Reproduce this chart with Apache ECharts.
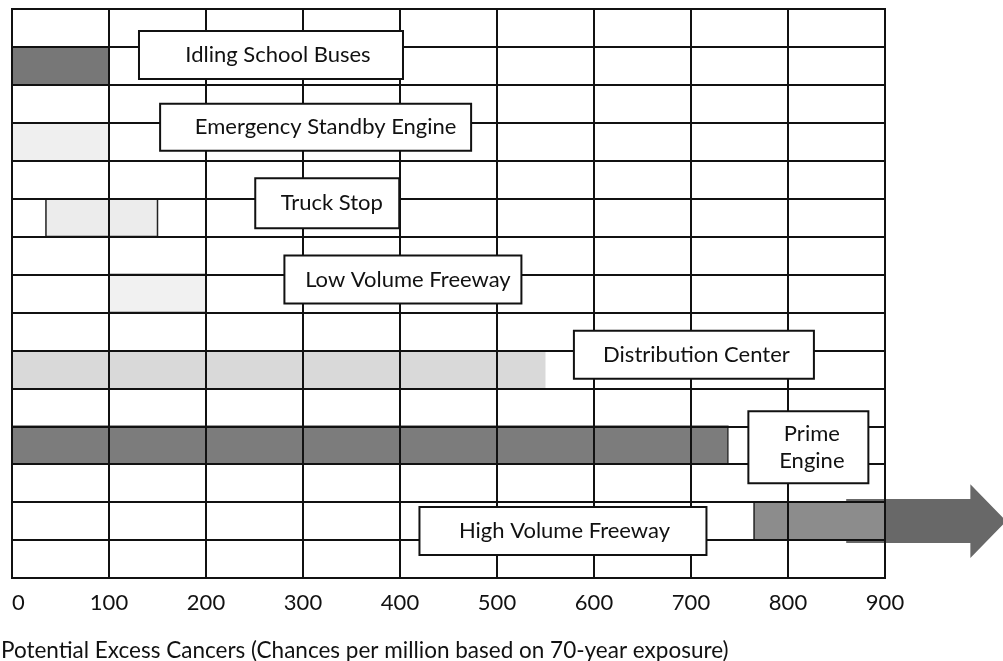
<!DOCTYPE html>
<html>
<head>
<meta charset="utf-8">
<script src="https://cdn.jsdelivr.net/npm/echarts@6/dist/echarts.min.js"></script>
<style>
  html, body { margin: 0; padding: 0; background: #fff; }
  #chart { width: 1003px; height: 661px; }
</style>
</head>
<body>
<div id="chart"></div>
<script>
// sources, each drawn on its own row with an empty row between them
const sources = ['Idling School Buses', 'Emergency Standby Engine', 'Truck Stop', 'Low Volume Freeway',
                 'Distribution Center', 'Prime Engine', 'High Volume Freeway'];
// risk range (chances per million)
const riskFrom = [0, 0, 35, 100, 0, 0, 765];
const riskTo = [100, 100, 150, 200, 550, 738, 900];
// high volume freeway keeps going past the axis end: shaft start, head start, tip
const arrowRange = [860, 988, 1025];
const axisTitle = 'Potential Excess Cancers (Chances per million based on 70-year exposure)';

// styles
const barFill = ['#777777', '#efefef', '#ececec', '#f1f1f1', '#d9d9d9', '#7c7c7c', '#8c8c8c'];
const barEdge = ['#222', '#222', '#222', '#222', null, '#333', '#222'];
// label boxes: centre (axis units), vertical shift, box size, text nudge to the right
const boxAt = [267, 313, 325, 403, 703, 821, 568];
const boxDy = [-11, -14.5, -14.5, -14, -14.5, 2, 10];
const boxW = [262, 309, 142, 235, 238, 118, 285];
const boxH = [46, 45, 48, 46, 46, 70, 46];
const boxNudge = [14, 20, 9, 10, 5, 7, 3];

const FONT = 'Lato';

// rows: gap, source, gap, source ... gap
const rows = [];
sources.forEach((s, i) => { rows.push('gap' + i); rows.push(s); });
rows.push('gapEnd');
const rowOf = i => 2 * i + 1;

const chart = echarts.init(document.getElementById('chart'));

const barData = sources.map((s, i) => [riskFrom[i], riskTo[i], rowOf(i)]);
const labelData = sources.map((s, i) => ({
  name: s === 'Prime Engine' ? 'Prime\nEngine' : s,
  value: [boxAt[i], rowOf(i)],
  label: {
    offset: [0, boxDy[i]],
    width: boxW[i] - boxNudge[i], height: boxH[i],
    padding: [0, 0, 0, boxNudge[i]]
  }
}));

const option = {
  animation: false,
  grid: { left: 12, right: 118, top: 9, bottom: 83, show: true, borderColor: '#111', borderWidth: 2 },
  title: {
    text: axisTitle, left: 1, top: 639, padding: 0,
    textStyle: { fontFamily: FONT, fontSize: 22.5, fontWeight: 'normal', color: '#111' }
  },
  xAxis: {
    type: 'value', min: 0, max: 900, interval: 100, z: 3,
    axisLine: { show: true, lineStyle: { color: '#111', width: 2 } },
    axisTick: { show: false },
    splitLine: { show: true, lineStyle: { color: '#111', width: 2 } },
    axisLabel: { fontFamily: FONT, fontSize: 22, color: '#111', margin: 14, alignMinLabel: 'left' }
  },
  yAxis: {
    type: 'category', data: rows, inverse: true, z: 3,
    axisLine: { show: true, lineStyle: { color: '#111', width: 2 } },
    axisTick: { show: false },
    axisLabel: { show: false },
    splitLine: { show: true, lineStyle: { color: '#111', width: 2 } }
  },
  series: [
    {
      // arrow behind the high volume freeway bar
      type: 'custom', clip: false, z: 1,
      data: [[arrowRange[0], arrowRange[1], arrowRange[2], rowOf(6)]],
      encode: { x: [0, 1, 2], y: 3 },
      renderItem: (params, api) => {
        const a = api.coord([api.value(0), api.value(3)]);
        const m = api.coord([api.value(1), api.value(3)]);
        const b = api.coord([api.value(2), api.value(3)]);
        const h = api.size([0, 1])[1];
        const s = h * 0.58, H = h * 0.97, y = a[1];
        return {
          type: 'polygon',
          shape: { points: [[a[0], y - s], [m[0], y - s], [m[0], y - H], [b[0], y], [m[0], y + H], [m[0], y + s], [a[0], y + s]] },
          style: { fill: '#686868' }
        };
      }
    },
    {
      type: 'custom', z: 2,
      data: barData,
      encode: { x: [0, 1], y: 2 },
      renderItem: (params, api) => {
        const i = params.dataIndex;
        const a = api.coord([api.value(0), api.value(2)]);
        const b = api.coord([api.value(1), api.value(2)]);
        const h = api.size([0, 1])[1];
        return {
          type: 'rect',
          shape: { x: a[0], y: a[1] - h / 2, width: b[0] - a[0], height: h },
          style: { fill: barFill[i], stroke: barEdge[i] || null, lineWidth: barEdge[i] ? 1.5 : 0 }
        };
      }
    },
    {
      type: 'scatter', z: 10, symbolSize: 0,
      itemStyle: { opacity: 1 },
      data: labelData,
      label: {
        show: true, position: 'inside', formatter: p => p.name,
        fontFamily: FONT, fontSize: 22, color: '#111', lineHeight: 27,
        textBorderWidth: 0, textBorderColor: 'transparent',
        align: 'center', verticalAlign: 'middle',
        backgroundColor: '#fff', borderColor: '#111', borderWidth: 2
      }
    }
  ]
};

chart.setOption(option);
</script>
</body>
</html>
